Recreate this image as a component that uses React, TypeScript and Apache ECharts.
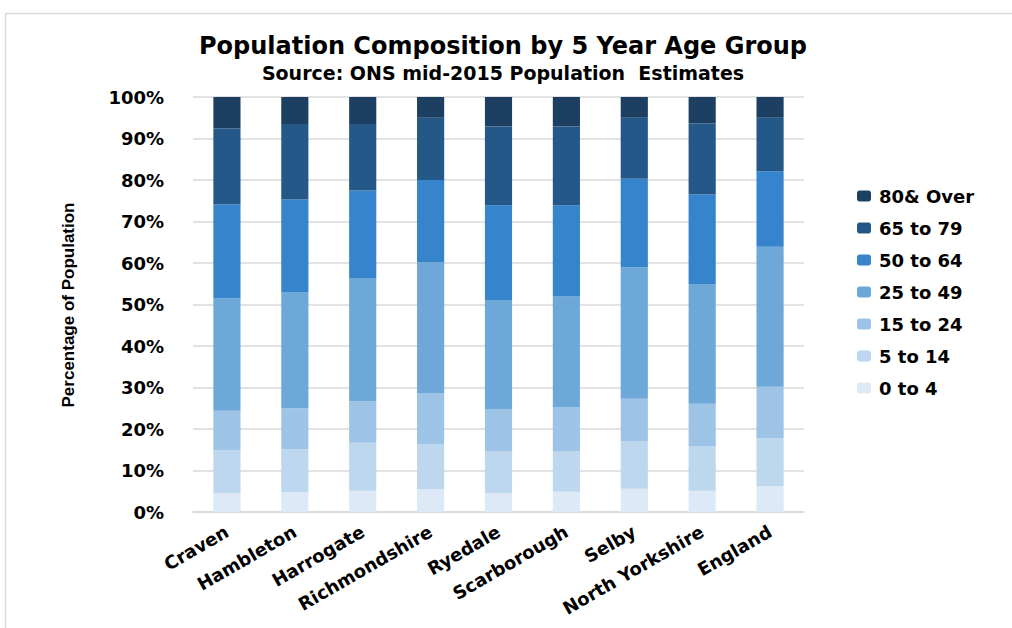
import React, { useEffect, useRef } from "react";
import * as echarts from "echarts";

const categories = [
  "Craven",
  "Hambleton",
  "Harrogate",
  "Richmondshire",
  "Ryedale",
  "Scarborough",
  "Selby",
  "North Yorkshire",
  "England",
];

const seriesNames = ["0 to 4", "5 to 14", "15 to 24", "25 to 49", "50 to 64", "65 to 79", "80& Over"];

const age0to4 = [4.5, 4.7, 5.1, 5.5, 4.5, 4.9, 5.6, 5.1, 6.2];
const age5to14 = [10.4, 10.4, 11.6, 10.9, 10.1, 9.8, 11.5, 10.8, 11.6];
const age15to24 = [9.5, 9.9, 10.0, 12.3, 10.1, 10.5, 10.2, 10.2, 12.4];
const age25to49 = [27.1, 27.9, 29.7, 31.5, 26.4, 26.7, 31.7, 28.7, 33.7];
const age50to64 = [22.6, 22.4, 21.1, 19.8, 22.8, 22.0, 21.3, 21.7, 18.2];
const age65to79 = [18.4, 18.2, 16.0, 15.0, 19.0, 19.0, 14.7, 17.2, 12.9];
const age80over = [7.5, 6.5, 6.5, 5.0, 7.1, 7.1, 5.0, 6.3, 5.0];

const seriesValues = [age0to4, age5to14, age15to24, age25to49, age50to64, age65to79, age80over];
const seriesColors = ["#dde9f6", "#bdd7ee", "#9dc3e6", "#6ea8d9", "#3584cc", "#245888", "#1c3f62"];

const legendOrder = ["80& Over", "65 to 79", "50 to 64", "25 to 49", "15 to 24", "5 to 14", "0 to 4"];

const title = "Population Composition by 5 Year Age Group";
const subtitle = "Source: ONS mid-2015 Population  Estimates";
const yTitle = "Percentage of Population";

const FONT = "'DejaVu Sans', sans-serif";

export default function App() {
  const ref = useRef<HTMLDivElement>(null);

  useEffect(() => {
    if (!ref.current) return;
    const chart = echarts.init(ref.current, null, { renderer: "svg" });
    chart.setOption({
      animation: false,
      backgroundColor: "#ffffff",
      title: [
        {
          text: title,
          left: 498,
          top: 29,
          textAlign: "center",
          textStyle: { fontFamily: FONT, fontWeight: "bold", fontSize: 24, color: "#000" },
        },
        {
          text: subtitle,
          left: 498,
          top: 58,
          textAlign: "center",
          textStyle: { fontFamily: FONT, fontWeight: "bold", fontSize: 19, color: "#000" },
        },
      ],
      graphic: [
        {
          type: "rect",
          shape: { x: 5.5, y: 13.5, width: 1100, height: 700 },
          style: { fill: "none", stroke: "#d9d9d9", lineWidth: 1.5 },
          silent: true,
        },
        {
          type: "text",
          x: 68,
          y: 305,
          rotation: Math.PI / 2,
          style: {
            text: yTitle,
            font: "bold 17px 'Liberation Sans Narrow', 'Arial Narrow', sans-serif",
            fill: "#000",
            textAlign: "center",
            textVerticalAlign: "middle",
          },
        },
      ],
      legend: {
        data: legendOrder,
        orient: "vertical",
        left: 852,
        top: 182,
        itemWidth: 14,
        itemHeight: 11,
        itemGap: 14,
        textStyle: {
          fontFamily: FONT,
          fontWeight: "bold",
          fontSize: 18,
          color: "#000",
          padding: [0, 0, 0, 3],
        },
      },
      grid: { left: 193, right: 208, top: 97, bottom: 116, containLabel: false },
      xAxis: {
        type: "category",
        data: categories,
        axisLine: { lineStyle: { color: "#d9d9d9", width: 1.5 } },
        axisTick: { show: false },
        axisLabel: {
          interval: 0,
          rotate: 30,
          margin: 18,
          fontFamily: FONT,
          fontWeight: "bold",
          fontSize: 18,
          color: "#000",
        },
      },
      yAxis: {
        type: "value",
        min: 0,
        max: 100,
        interval: 10,
        axisLine: { show: false },
        axisTick: { show: false },
        splitLine: { lineStyle: { color: "#d9d9d9", width: 1.5 } },
        axisLabel: {
          formatter: "{value}%",
          margin: 29,
          fontFamily: FONT,
          fontWeight: "bold",
          fontSize: 18,
          color: "#000",
        },
      },
      series: seriesNames.map((name, i) => ({
        name,
        type: "bar",
        stack: "total",
        barWidth: "40%",
        data: seriesValues[i],
        itemStyle: { color: seriesColors[i] },
        emphasis: { disabled: true },
      })),
    });
    return () => chart.dispose();
  }, []);

  return (
    <div
      ref={ref}
      style={{ position: "absolute", left: 0, top: 0, width: 1012, height: 628 }}
    />
  );
}
